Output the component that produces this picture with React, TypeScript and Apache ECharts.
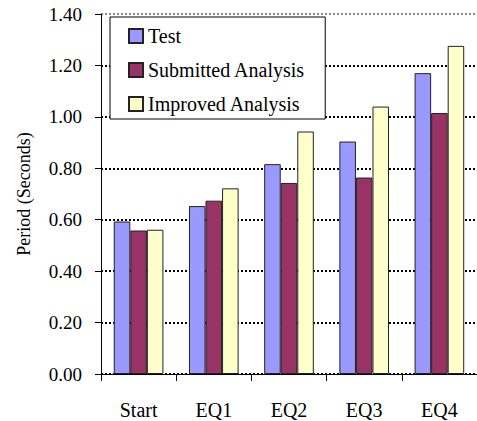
import React, { useEffect, useRef } from "react";
import * as echarts from "echarts";

// Measured natural periods for each stage of the shake-table sequence
const categories = ["Start", "EQ1", "EQ2", "EQ3", "EQ4"];
const testValues = [0.593, 0.653, 0.816, 0.904, 1.17];
const submittedValues = [0.558, 0.674, 0.743, 0.764, 1.015];
const improvedValues = [0.561, 0.722, 0.943, 1.04, 1.276];
const seriesNames = ["Test", "Submitted Analysis", "Improved Analysis"];
const yTicks = [0, 0.2, 0.4, 0.6, 0.8, 1.0, 1.2, 1.4];

const FONT = '"Liberation Serif", serif';

export default function App() {
  const ref = useRef<HTMLDivElement>(null);

  useEffect(() => {
    if (!ref.current) return;
    const chart = echarts.init(ref.current, undefined, { renderer: "svg" });
    const colors = ["#9999FF", "#993366", "#FFFFCC"];
    const values = [testValues, submittedValues, improvedValues];
    // the topmost grid line is drawn grey, the rest black
    const splitColors = yTicks.map((_, i) => (i === yTicks.length - 1 ? "#888888" : "#000000"));

    chart.setOption({
      animation: false,
      textStyle: { fontFamily: FONT, color: "#000" },
      grid: { left: 101, right: -9, top: 14, bottom: 47, containLabel: false },
      legend: {
        orient: "vertical",
        left: 110,
        top: 17,
        data: seriesNames,
        icon: "rect",
        itemWidth: 14,
        itemHeight: 14,
        itemGap: 14,
        padding: [9, 20, 5, 18],
        backgroundColor: "#ffffff",
        borderColor: "#000000",
        borderWidth: 1,
        borderRadius: 0,
        textStyle: { fontFamily: FONT, fontSize: 20, color: "#000", lineHeight: 20 },
      },
      xAxis: {
        type: "category",
        data: categories,
        axisLine: { lineStyle: { color: "#000", width: 1 } },
        axisTick: { show: true, length: 7, lineStyle: { color: "#000" } },
        axisLabel: { fontFamily: FONT, fontSize: 20, color: "#000", margin: 26 },
      },
      yAxis: {
        type: "value",
        min: 0,
        max: 1.4,
        interval: 0.2,
        name: "Period (Seconds)",
        nameLocation: "middle",
        nameGap: 68,
        nameTextStyle: { fontFamily: FONT, fontSize: 18, color: "#000" },
        axisLine: { show: true, lineStyle: { color: "#000", width: 1 } },
        axisTick: { show: true, inside: false, length: 6, lineStyle: { color: "#000" } },
        axisLabel: {
          fontFamily: FONT,
          fontSize: 19,
          color: "#000",
          margin: 19,
          formatter: (v: number) => v.toFixed(2),
        },
        splitLine: { show: true, lineStyle: { color: splitColors, width: 2, type: [2, 2] } },
      },
      series: seriesNames.map((name, i) => ({
        name,
        type: "bar",
        data: values[i],
        barGap: "0%",
        barCategoryGap: "34%",
        itemStyle: { color: colors[i], borderColor: "#222", borderWidth: 1 },
      })),
    });

    return () => chart.dispose();
  }, []);

  return <div ref={ref} style={{ width: 477, height: 421, position: "absolute", left: 0, top: 0 }} />;
}
